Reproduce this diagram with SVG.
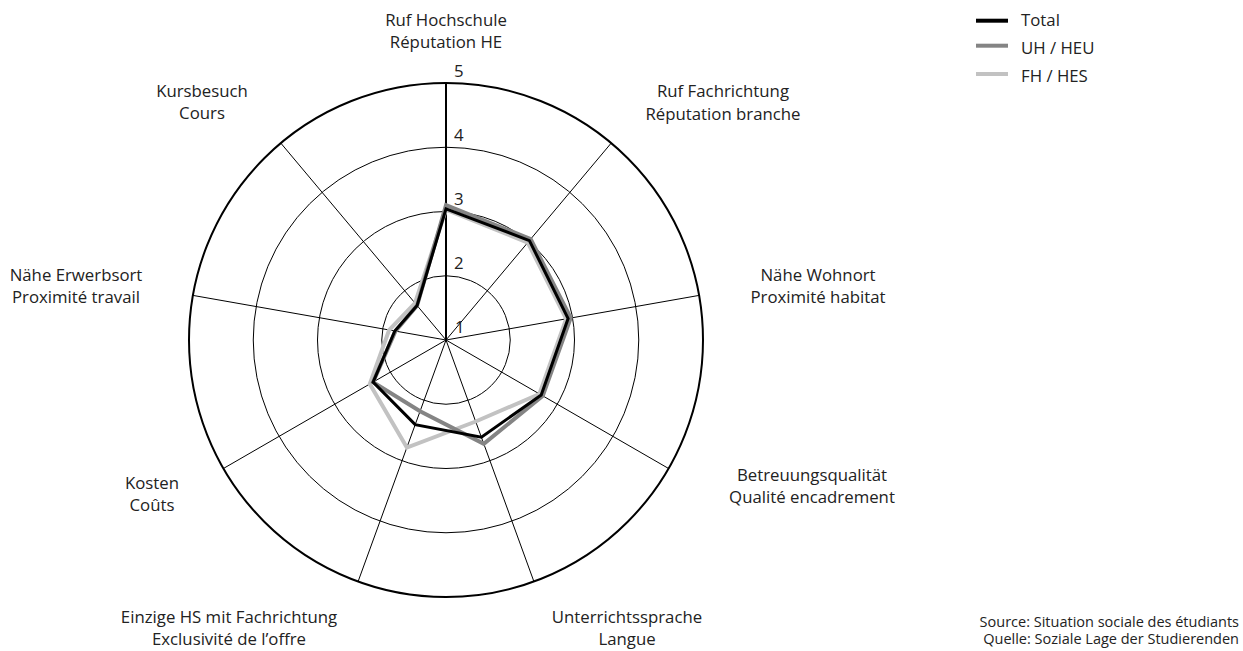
<svg xmlns="http://www.w3.org/2000/svg" width="1243" height="651" viewBox="0 0 1243 651">
<style>
text{font-family:"Open Sans","Liberation Sans",sans-serif;fill:#222;}
.lbl{font-size:16.8px;text-anchor:middle;}
.tick{font-size:16.8px;}
.leg{font-size:16.8px;}
.src{font-size:14.5px;text-anchor:end;}
.grid{fill:none;stroke:#000;stroke-width:1;}
.outer{fill:none;stroke:#000;stroke-width:2;}
.s{fill:none;stroke-linejoin:miter;}
.total{stroke:#000;stroke-width:3;}
.uh{stroke:#848484;stroke-width:4;}
.fh{stroke:#c2c2c2;stroke-width:4;}
</style>
<rect width="1243" height="651" fill="#fff"/>
<g id="grid">
<circle class="grid" cx="446" cy="340" r="64.25"/>
<circle class="grid" cx="446" cy="340" r="128.5"/>
<circle class="grid" cx="446" cy="340" r="192.75"/>
<circle class="outer" cx="446" cy="340" r="257"/>
<g class="grid">
<line x1="446" y1="340" x2="611.2" y2="143.1"/>
<line x1="446" y1="340" x2="699.1" y2="295.4"/>
<line x1="446" y1="340" x2="668.6" y2="468.5"/>
<line x1="446" y1="340" x2="533.9" y2="581.5"/>
<line x1="446" y1="340" x2="358.1" y2="581.5"/>
<line x1="446" y1="340" x2="223.4" y2="468.5"/>
<line x1="446" y1="340" x2="192.9" y2="295.4"/>
<line x1="446" y1="340" x2="280.8" y2="143.1"/>
</g>
<line x1="446" y1="340" x2="446" y2="83" stroke="#000" stroke-width="2"/>
</g>
<g id="ticks" class="tick">
<text x="454" y="77">5</text>
<text x="454" y="141">4</text>
<text x="454" y="205">3</text>
<text x="454" y="269">2</text>
<text x="455" y="333">1</text>
</g>
<g id="connectors">
<polygon id="series-fh" class="s fh" points="446,209.6 527.8,242.6 566.2,318.8 539.4,394 475.7,421.5 406.9,447.5 369.8,384 389.1,330 415,303.1"/>
<polygon id="series-uh" class="s uh" points="446,205.1 530.7,239.1 570.7,318 542.8,395.9 483.8,443.8 420.1,411.2 373.1,382.1 395.4,331.1 417.1,305.5"/>
<polygon id="series-total" class="s total" points="446,208.9 529.4,240.6 568.1,318.5 541.2,395 481.4,437.2 415.2,424.6 373.1,382.1 394.8,331 417.1,305.5"/>
</g>
<g id="axis-ruf-hochschule" class="lbl"><text x="446" y="26">Ruf Hochschule</text><text x="446" y="48">Réputation HE</text></g>
<g id="axis-ruf-fachrichtung" class="lbl"><text x="723" y="97">Ruf Fachrichtung</text><text x="723" y="120">Réputation branche</text></g>
<g id="axis-naehe-wohnort" class="lbl"><text x="818" y="281">Nähe Wohnort</text><text x="818" y="303">Proximité habitat</text></g>
<g id="axis-betreuung" class="lbl"><text x="812" y="481">Betreuungsqualität</text><text x="812" y="503">Qualité encadrement</text></g>
<g id="axis-sprache" class="lbl"><text x="627" y="623">Unterrichtssprache</text><text x="627" y="645">Langue</text></g>
<g id="axis-einzige" class="lbl"><text x="229" y="623">Einzige HS mit Fachrichtung</text><text x="229" y="645">Exclusivité de l’offre</text></g>
<g id="axis-kosten" class="lbl"><text x="152" y="489">Kosten</text><text x="152" y="511">Coûts</text></g>
<g id="axis-erwerbsort" class="lbl"><text x="76" y="281">Nähe Erwerbsort</text><text x="76" y="303">Proximité travail</text></g>
<g id="axis-kursbesuch" class="lbl"><text x="202" y="97">Kursbesuch</text><text x="202" y="119">Cours</text></g>
<g id="legend">
<line x1="976" y1="20.7" x2="1008" y2="20.7" stroke="#000" stroke-width="4"/>
<text class="leg" x="1021" y="26">Total</text>
<line x1="976" y1="45.7" x2="1008" y2="45.7" stroke="#848484" stroke-width="4"/>
<text class="leg" x="1021" y="54">UH / HEU</text>
<line x1="976" y1="74" x2="1008" y2="74" stroke="#c2c2c2" stroke-width="4"/>
<text class="leg" x="1021" y="82">FH / HES</text>
</g>
<g id="source">
<text class="src" x="1239" y="627">Source: Situation sociale des étudiants</text>
<text class="src" x="1239" y="644">Quelle: Soziale Lage der Studierenden</text>
</g>
</svg>
